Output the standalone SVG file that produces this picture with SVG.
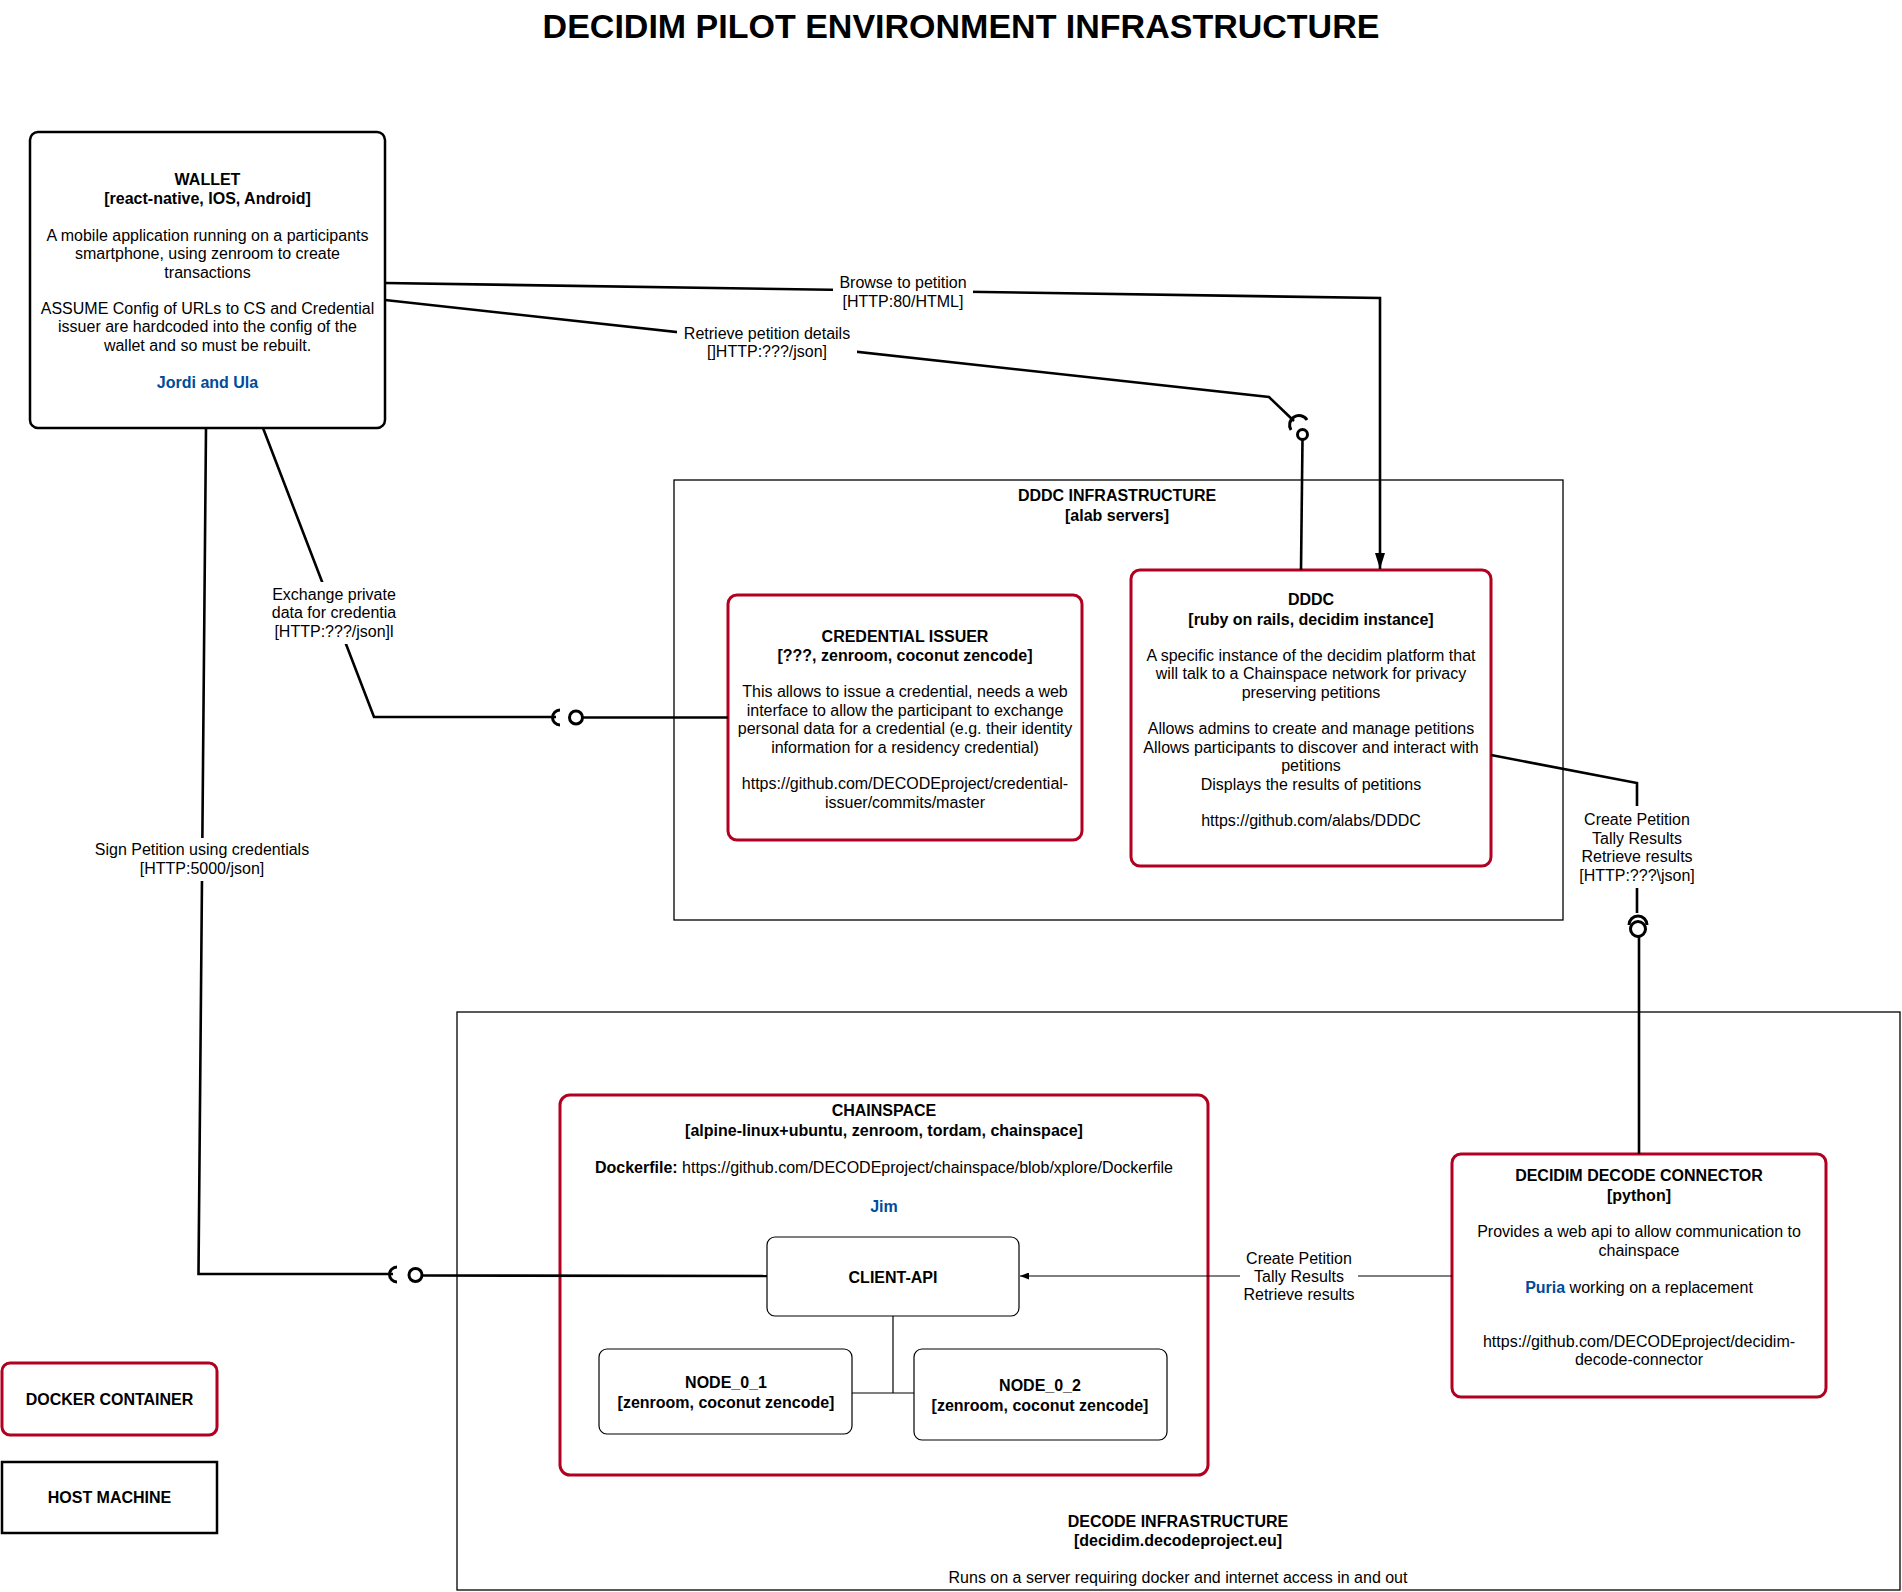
<svg xmlns="http://www.w3.org/2000/svg" width="1902" height="1592" viewBox="0 0 1902 1592">
  <style>
    text { font-family: "Liberation Sans", Arial, Helvetica, sans-serif; font-size: 16px; fill: #000; text-anchor: middle; }
    .b { font-weight: bold; }
    .blue { fill: #004C99; font-weight: bold; }
    .title { font-size: 34px; font-weight: bold; }
    .docker { fill: #fff; stroke: #B20020; stroke-width: 3; }
    .inner { fill: #fff; stroke: #000; stroke-width: 1.2; }
    .host { fill: #fff; stroke: #000; stroke-width: 2.5; }
    .infra { fill: none; stroke: #000; stroke-width: 1.3; }
    .wire { fill: none; stroke: #000; stroke-width: 2.6; stroke-linejoin: miter; }
    .sock { fill: none; stroke: #000; stroke-width: 3; }
    .thin { fill: none; stroke: #000; stroke-width: 1.2; }
    .lbl { fill: #fff; stroke: none; }
    .ring { fill: #fff; stroke: #000; stroke-width: 3; }
  </style>
  <defs>
    <marker id="arrowBig" viewBox="0 0 16 10" refX="16" refY="5" markerUnits="userSpaceOnUse" markerWidth="16" markerHeight="10" orient="auto">
      <path d="M0,0 L16,5 L0,10 z" fill="#000"/>
    </marker>
    <marker id="arrowSmall" viewBox="0 0 9 7" refX="9" refY="3.5" markerUnits="userSpaceOnUse" markerWidth="9" markerHeight="7" orient="auto">
      <path d="M0,0 L9,3.5 L0,7 z" fill="#000"/>
    </marker>
  </defs>
  <rect width="1902" height="1592" fill="#fff"/>

  <text class="title" x="961" y="38">DECIDIM PILOT ENVIRONMENT INFRASTRUCTURE</text>

  <!-- containers -->
  <g id="dddc-infrastructure">
    <rect class="infra" x="674" y="480" width="889" height="440"/>
    <text class="b" x="1117" y="501">DDDC INFRASTRUCTURE</text>
    <text class="b" x="1117" y="521">[alab servers]</text>
  </g>
  <g id="decode-infrastructure">
    <rect class="infra" x="457" y="1012" width="1443" height="578" stroke-width="1.6"/>
    <text class="b" x="1178" y="1527">DECODE INFRASTRUCTURE</text>
    <text class="b" x="1178" y="1546">[decidim.decodeproject.eu]</text>
    <text x="1178" y="1583">Runs on a server requiring docker and internet access in and out</text>
  </g>

  <!-- nodes -->
  <g id="wallet">
    <rect x="30" y="132" width="355" height="296" rx="8" fill="#fff" stroke="#000" stroke-width="2.5"/>
    <text class="b" x="207.5" y="185">WALLET</text>
    <text class="b" x="207.5" y="204">[react-native, IOS, Android]</text>
    <text x="207.5" y="241">A mobile application running on a participants</text>
    <text x="207.5" y="259">smartphone, using zenroom to create</text>
    <text x="207.5" y="278">transactions</text>
    <text x="207.5" y="314">ASSUME Config of URLs to CS and Credential</text>
    <text x="207.5" y="332">issuer are hardcoded into the config of the</text>
    <text x="207.5" y="351">wallet and so must be rebuilt.</text>
    <text class="blue" x="207.5" y="388">Jordi and Ula</text>
  </g>

  <g id="credential-issuer">
    <rect class="docker" x="728" y="595" width="354" height="245" rx="9"/>
    <text class="b" x="905" y="642">CREDENTIAL ISSUER</text>
    <text class="b" x="905" y="661">[???, zenroom, coconut zencode]</text>
    <text x="905" y="697">This allows to issue a credential, needs a web</text>
    <text x="905" y="716">interface to allow the participant to exchange</text>
    <text x="905" y="734">personal data for a credential (e.g. their identity</text>
    <text x="905" y="753">information for a residency credential)</text>
    <text x="905" y="789">https://github.com/DECODEproject/credential-</text>
    <text x="905" y="808">issuer/commits/master</text>
  </g>

  <g id="dddc">
    <rect class="docker" x="1131" y="570" width="360" height="296" rx="9"/>
    <text class="b" x="1311" y="605">DDDC</text>
    <text class="b" x="1311" y="625">[ruby on rails, decidim instance]</text>
    <text x="1311" y="661">A specific instance of the decidim platform that</text>
    <text x="1311" y="679">will talk to a Chainspace network for privacy</text>
    <text x="1311" y="698">preserving petitions</text>
    <text x="1311" y="734">Allows admins to create and manage petitions</text>
    <text x="1311" y="753">Allows participants to discover and interact with</text>
    <text x="1311" y="771">petitions</text>
    <text x="1311" y="790">Displays the results of petitions</text>
    <text x="1311" y="826">https://github.com/alabs/DDDC</text>
  </g>

  <g id="chainspace">
    <rect class="docker" x="560" y="1095" width="648" height="380" rx="10"/>
    <text class="b" x="884" y="1116">CHAINSPACE</text>
    <text class="b" x="884" y="1136">[alpine-linux+ubuntu, zenroom, tordam, chainspace]</text>
    <text x="884" y="1173"><tspan class="b">Dockerfile:</tspan> https://github.com/DECODEproject/chainspace/blob/xplore/Dockerfile</text>
    <text class="blue" x="884" y="1212">Jim</text>
  </g>

  <g id="client-api">
    <rect class="inner" x="767" y="1237" width="252" height="79" rx="8"/>
    <text class="b" x="893" y="1283">CLIENT-API</text>
  </g>

  <g id="node-0-1">
    <rect class="inner" x="599" y="1349" width="253" height="85" rx="8"/>
    <text class="b" x="726" y="1388">NODE_0_1</text>
    <text class="b" x="726" y="1408">[zenroom, coconut zencode]</text>
  </g>

  <g id="node-0-2">
    <rect class="inner" x="914" y="1349" width="253" height="91" rx="8"/>
    <text class="b" x="1040" y="1391">NODE_0_2</text>
    <text class="b" x="1040" y="1411">[zenroom, coconut zencode]</text>
  </g>

  <g id="decidim-decode-connector">
    <rect class="docker" x="1452" y="1154" width="374" height="243" rx="9"/>
    <text class="b" x="1639" y="1181">DECIDIM DECODE CONNECTOR</text>
    <text class="b" x="1639" y="1201">[python]</text>
    <text x="1639" y="1237">Provides a web api to allow communication to</text>
    <text x="1639" y="1256">chainspace</text>
    <text x="1639" y="1293"><tspan class="blue">Puria</tspan> working on a replacement</text>
    <text x="1639" y="1347">https://github.com/DECODEproject/decidim-</text>
    <text x="1639" y="1365">decode-connector</text>
  </g>

  <g id="legend-docker-container">
    <rect class="docker" x="2" y="1363" width="215" height="72" rx="8"/>
    <text class="b" x="109.5" y="1405">DOCKER CONTAINER</text>
  </g>

  <g id="legend-host-machine">
    <rect class="host" x="2" y="1462" width="215" height="71"/>
    <text class="b" x="109.5" y="1503">HOST MACHINE</text>
  </g>

  <!-- connectors -->
  <g id="connectors">
    <!-- Browse to petition -->
    <path class="wire" d="M385,283 L1380,298 L1380,569" marker-end="url(#arrowBig)"/>
    <rect class="lbl" x="833" y="272" width="140" height="40"/>
    <text x="903" y="288">Browse to petition</text>
    <text x="903" y="307">[HTTP:80/HTML]</text>

    <!-- Retrieve petition details -->
    <path class="wire" d="M385,300 L1269,397 L1294,421"/>
    <path class="sock" d="M1291,430 A9,9 0 0,1 1307,420"/>
    <circle class="ring" cx="1302.5" cy="434.5" r="5"/>
    <path class="wire" d="M1302.5,439.5 L1301,570"/>
    <rect class="lbl" x="677" y="323" width="180" height="40"/>
    <text x="767" y="339">Retrieve petition details</text>
    <text x="767" y="357">[]HTTP:???/json]</text>

    <!-- Exchange private data -->
    <path class="wire" d="M263,428 L374,717 L556,717"/>
    <path class="sock" d="M560,710 A7.5,7.5 0 0,0 560,725"/>
    <circle class="ring" cx="576" cy="717.5" r="6.5"/>
    <path class="wire" d="M582.5,717.5 L728,717.5"/>
    <rect class="lbl" x="268" y="582" width="132" height="62"/>
    <text x="334" y="600">Exchange private</text>
    <text x="334" y="618">data for credentia</text>
    <text x="334" y="637">[HTTP:???/json]l</text>

    <!-- Sign Petition -->
    <path class="wire" d="M206,428 L198.5,1274 L393,1274"/>
    <path class="sock" d="M397,1267 A7.5,7.5 0 0,0 397,1282"/>
    <circle class="ring" cx="415.5" cy="1275" r="6.5"/>
    <path class="wire" d="M422,1275.5 L767,1276"/>
    <rect class="lbl" x="92" y="838" width="220" height="43"/>
    <text x="202" y="855">Sign Petition using credentials</text>
    <text x="202" y="874">[HTTP:5000/json]</text>

    <!-- DDDC to connector -->
    <path class="wire" d="M1491,755 L1637,783 L1637,913"/>
    <path class="sock" d="M1629,925 A9,9 0 0,1 1647,925"/>
    <circle class="ring" cx="1638" cy="929" r="7.5"/>
    <path class="wire" d="M1639,936.5 L1639,1154"/>
    <rect class="lbl" x="1575" y="806" width="124" height="82"/>
    <text x="1637" y="825">Create Petition</text>
    <text x="1637" y="844">Tally Results</text>
    <text x="1637" y="862">Retrieve results</text>
    <text x="1637" y="881">[HTTP:???\json]</text>

    <!-- connector to CLIENT-API -->
    <path class="thin" d="M1452,1276 L1020,1276" marker-end="url(#arrowSmall)"/>
    <rect class="lbl" x="1240" y="1248" width="118" height="58"/>
    <text x="1299" y="1264">Create Petition</text>
    <text x="1299" y="1282">Tally Results</text>
    <text x="1299" y="1300">Retrieve results</text>

    <!-- CLIENT-API to nodes -->
    <path class="thin" d="M893,1316 L893,1393"/>
    <path class="thin" d="M852,1393 L914,1393"/>
  </g>
</svg>
